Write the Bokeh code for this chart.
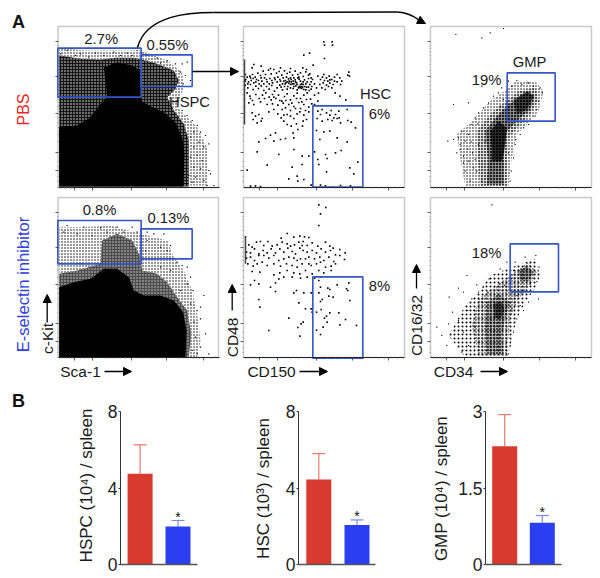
from bokeh.plotting import figure
from bokeh.models import Range1d, LinearAxis, FixedTicker, Arrow, NormalHead
from bokeh.core.properties import value
from bokeh.embed import file_html
from bokeh.resources import INLINE
import math

FONT = "Liberation Sans"
# ---------- bar data ----------
BAR_GROUPS = ["PBS", "E-selectin inhibitor"]
HSPC_MEAN = [4.74, 1.99]; HSPC_TOP = [6.26, 2.30]
HSC_MEAN = [4.44, 2.07];  HSC_TOP = [5.80, 2.33]
GMP_MEAN = [2.32, 0.82];  GMP_TOP = [2.94, 0.96]
BAR_COLORS = ["#d93a2e", "#2a3ff0"]
ERR_COLORS = ["#e57a6e", "#7a8af2"]

# ---------- flow gates (x0, x1, y0, y1) read in crop units ----------
GATES_P1A = [(172, 422, 143, 290), (422, 575, 163, 258)]
GATES_P1B = [(172, 422, 90, 220), (422, 575, 115, 205)]
GATE_P2 = [(217, 367, 244, 488)]
GATE_P3A = [(236, 380, 145, 290)]
GATE_P3B = [(245, 390, 145, 289)]

# ---------- HSC panels: points ----------
HSC_PBS = [(250,52),(252,62),(275,52),(276,62),(190,92),(207,86),(252,102),(218,122),(40,120),(62,125),(35,130),(90,132),(120,130),(150,132),(187,130),(198,135),(208,148),(325,143),(327,155),(322,152),
(15,150),(20,158),(28,155),(36,150),(44,158),(52,146),(60,153),(68,140),(75,150),(84,137),(92,148),(100,135),(108,146),(116,141),(124,152),(132,139),(140,147),(148,143),(156,152),(164,140),(172,150),(180,145),(188,156),(196,142),(204,152),(212,160),
(16,165),(24,172),(32,168),(40,175),(48,165),(56,178),(64,170),(72,160),(80,172),(88,162),(96,175),(104,165),(112,158),(120,170),(128,160),(136,175),(144,163),(152,172),(160,160),(168,175),(176,164),(184,178),(192,166),(200,172),(208,180),(216,165),
(14,182),(22,190),(30,180),(38,195),(46,185),(54,192),(62,184),(70,198),(78,186),(86,194),(94,183),(102,200),(110,190),(118,182),(126,196),(134,178),(142,186),(150,180),(158,192),(166,184),(174,190),(182,186),(190,195),(198,188),(206,198),(214,186),(222,178),
(135,168),(140,172),(146,170),(152,165),(158,170),(164,166),(170,180),(178,188),(186,188),(172,160),(160,178),(150,160),(130,170),(126,178),
(138,158),(145,176),(155,178),(165,172),(175,158),(180,170),(188,172),(196,178),(204,162),(212,172),(118,165),(110,172),(102,160),(94,168),(86,178),(78,165),(70,178),(62,160),(54,168),(46,172),(38,162),(30,160),(22,178),(14,170),(122,188),(132,186),(140,194),(150,190),(160,186),(170,196),(180,180),(188,180),(196,196),(204,188),(212,194),(180,190),(176,186),(184,192),(192,186),
(232,155),(240,165),(250,150),(258,160),(266,155),(274,165),(282,158),(290,150),(298,160),(304,170),(300,180),(290,172),(278,180),(268,176),(258,182),(248,175),(238,180),(228,190),(244,190),(254,195),(264,186),(274,190),(284,205),(298,215),(316,226),(262,170),(268,166),(252,168),(246,158),(282,170),
(20,205),(28,215),(36,228),(46,210),(56,222),(66,212),(76,205),(86,218),(96,210),(106,222),(114,212),(124,230),(132,216),(140,208),(150,226),(160,214),(170,206),(180,222),(190,212),(200,205),(210,224),(222,212),(234,206),(232,230),(214,238),
(25,235),(40,240),(60,232),(80,240),(96,238),(112,242),(128,236),(145,240),(160,246),(175,234),(190,240),(205,248),(222,240),(100,218),(118,228),(136,228),(154,236),(168,222),(184,232),(198,225),(30,222),(72,222),(92,226),
(35,265),(45,275),(55,270),(65,282),(38,285),(50,295),(62,290),(85,262),(100,255),(112,268),(122,280),(130,290),(140,270),(150,258),(160,282),(170,268),(180,252),(190,272),(205,262),(198,285),(168,298),(152,305),(140,300),(172,315),(186,305),(158,325),(125,255),(135,250),(165,252),(178,262),(150,275),(130,272),(195,258),(188,290),
(232,260),(245,255),(258,265),(272,258),(285,270),(295,260),(230,282),(245,290),(262,285),(275,288),(290,282),(300,295),(320,255),(322,288),(332,293),(345,310),(228,318),(250,322),(268,320),(238,345),(268,272),(280,280),(296,280),(240,270),
(105,325),(90,332),(75,342),(55,352),(100,350),(120,345),(135,342),(160,340),(50,382),(115,390),(160,375),(205,395),(185,395),(80,422),(155,428),(185,420),(20,437),(145,463),(170,455),(190,465),(172,470),(290,340),(320,352),(302,378),(285,385),(255,390),(260,402),(232,405),(352,413),(328,430),(258,442),(340,448),(222,382),(235,420),(240,482),(255,484),(300,483),(330,484),(212,482),(30,485),(60,486),(45,484)]

HSC_INH = [(235,28),(256,36),(240,55),(235,90),(140,114),(122,128),(160,125),(178,122),(192,124),(205,126),(15,125),
(25,148),(35,155),(48,140),(60,138),(70,150),(82,138),(95,152),(110,148),(125,140),(140,145),(150,152),(162,148),(175,140),(188,138),(200,150),(215,142),(232,152),(255,140),(268,152),(278,158),(298,162),(314,172),
(18,170),(30,172),(42,160),(55,175),(68,165),(80,172),(92,160),(105,172),(118,160),(130,170),(142,158),(155,168),(165,175),(178,158),(185,150),(188,165),(200,170),(215,165),(228,172),(242,160),(255,170),(270,165),(285,178),(298,180),
(18,188),(30,185),(42,195),(55,180),(70,180),(85,188),(100,180),(115,195),(130,190),(145,185),(160,188),(170,195),(180,190),(195,190),(205,185),(222,190),(238,185),(250,195),(265,185),(280,198),(312,192),
(22,205),(38,212),(50,205),(65,200),(80,210),(100,205),(120,212),(138,205),(155,210),(170,215),(185,205),(205,205),(212,210),(228,205),(240,200),(255,215),(272,212),(285,205),
(35,228),(58,230),(100,238),(118,232),(140,225),(160,232),(178,235),(195,225),(215,235),(235,225),(250,232),(272,225),
(115,250),(130,245),(155,245),(180,248),(200,245),(222,248),(240,245),(105,262),
(30,268),(42,255),(55,265),(90,275),(105,288),(160,292),(168,285),(190,292),(212,292),(235,255),(240,275),(235,292),(262,278),(268,282),(290,268),(325,262),(318,280),(322,285),(265,302),(278,305),(245,312),(240,318),(328,315),
(55,312),(58,335),(175,322),(195,340),(212,340),(215,350),(228,350),(242,342),(268,352),(295,352),(258,362),(252,368),(315,372),(145,368),(188,380),(182,385),(172,396),(260,380),(298,388),(348,390),(85,405),(228,404),(248,395),(240,417),(178,422)]

# ---------- GMP panels: points at the rims of the clouds ----------
GMP_PBS = [(225,12),(160,40),(185,25),(82,30),(75,240),(120,235),(160,185),(100,320),(90,340),(110,350),(75,345),(58,350),(95,375),(85,385),(105,395),(120,410),(135,430),(110,440),(125,470),(130,300),(140,280),(150,265),(165,250),(180,235),(195,215),(210,205),(220,190),(240,170),(265,168),(300,175),(335,190),(342,205),(330,230),(320,275),(300,300),(275,330),(260,360),(255,400),(248,440),(245,470),(105,415),(95,360),(120,330),(132,385),(145,440),(160,470),(170,350),(215,245),(225,225),(250,185),(280,180),(315,185),(325,255),(285,310),(262,345),(240,385),(128,352),(148,298),(118,375),(140,405),(150,360)]
GMP_INH = [(190,28),(115,240),(145,268),(105,290),(62,305),(72,350),(60,385),(40,420),(55,450),(25,395),(90,375),(105,410),(120,450),(100,470),(130,310),(135,345),(125,380),(150,290),(165,275),(182,250),(215,220),(235,200),(260,200),(290,185),(322,180),(332,215),(325,258),(330,310),(300,320),(285,345),(265,370),(255,410),(245,450),(240,475),(90,278),(140,395),(118,345),(152,440),(160,320),(178,290),(212,265),(228,270),(275,330),(250,340),(265,300),(280,290),(305,265),(248,250),(255,225)]

# ---------- HSPC panels: scattered dots outside the dense cloud ----------
HSPC_PBS_DARK = [(545,190),(560,185),(570,240),(555,225),(548,250),(540,215),(525,190),(440,165),(470,172),(500,180),(530,300),(545,330),(560,345),(575,360),(590,375),(600,395),(615,405),(580,395),(570,410),(595,425),(610,440),(625,430),(580,440),(570,470),(590,465),(605,480),(625,510),(580,500),(565,525),(585,530),(610,540),(630,520),(600,505),(575,545),(560,550),(640,555),(620,555),(200,150),(240,160),(285,158),(340,155),(380,158),(410,150),(180,160),(225,165),(265,170),(310,165),(360,165),(395,165),(440,182),(480,188)]
HSPC_INH_DARK = [(610,315),(600,350),(590,360),(580,395),(600,385),(615,430),(585,440),(600,470),(575,480),(625,490),(590,490),(560,230),(570,260),(578,300),(560,280),(545,225),(530,215),(510,165),(490,130),(460,130),(440,125),(200,105),(250,110),(300,112),(350,110),(395,110),(190,125),(230,130),(275,135),(320,125),(370,125),(410,125),(440,150),(480,170),(500,180),(435,180),(480,230),(510,240),(540,300),(570,340)]

# ---------- density outlines (crop units) ----------
P1A_OUTER = [(176,143),(260,150),(420,150),(500,180),(545,215),(550,260),(530,320),(590,380),(620,440),(620,555),(176,558)]
P1A_MID = [(176,165),(240,175),(300,178),(345,172),(400,172),(425,178),(470,190),(520,210),(535,240),(525,265),(500,290),(520,330),(550,370),(565,420),(565,558),(176,558)]
P1A_SOLID = [(176,558),(176,380),(230,375),(270,350),(300,310),(320,290),(310,200),(350,185),(395,195),(420,210),(422,300),(445,315),(490,335),(525,365),(545,410),(552,460),(548,558)]
P1B_OUTER = [(176,110),(250,110),(330,105),(420,130),(500,150),(520,200),(550,240),(575,300),(590,370),(600,450),(590,500),(176,500)]
P1B_MID = [(176,250),(230,240),(300,220),(305,150),(350,130),(395,150),(420,200),(425,240),(470,250),(500,275),(530,320),(560,360),(572,430),(565,500),(176,500)]
P1B_SOLID = [(176,500),(176,290),(220,275),(270,265),(310,235),(350,235),(385,260),(400,300),(430,315),(480,315),(520,330),(548,365),(558,420),(555,500)]
P3A_L1 = [(85,330),(130,290),(190,225),(235,195),(260,170),(320,170),(345,200),(330,260),(300,295),(265,330),(250,400),(240,485),(110,485),(95,400)]
P3A_L2 = [(145,320),(190,265),(240,225),(270,200),(320,190),(330,225),(305,270),(270,305),(240,340),(235,420),(235,483),(155,483),(150,420)]
P3A_L3 = [(170,320),(205,275),(240,240),(300,200),(318,215),(305,255),(270,285),(235,320),(225,400),(225,480),(175,480),(180,410)]
P3A_L4 = [(185,320),(210,290),(235,310),(228,370),(220,410),(190,410),(190,370)]
P3A_L5 = [(255,225),(295,200),(315,215),(295,255),(265,270)]
P3B_L1 = [(60,420),(110,330),(150,290),(185,240),(250,215),(320,190),(335,240),(320,280),(290,320),(265,370),(250,430),(240,485),(110,485)]
P3B_L2 = [(130,390),(150,310),(190,280),(250,235),(300,200),(325,230),(305,270),(270,310),(245,370),(235,480),(150,480)]
P3B_L3 = [(175,320),(210,295),(245,320),(230,370),(220,420),(225,478),(175,478),(170,400)]
P3B_L4 = [(270,225),(295,212),(315,230),(300,258),(275,255)]
P3B_L5 = [(195,325),(220,320),(228,345),(215,372),(198,365)]

TICK_X_MAJOR = [58, 112, 228, 335, 445]
TICK_X_MINOR = [18, 27, 35, 42, 48, 53, 75, 88, 100, 150, 175, 195, 212, 262, 285, 305, 322, 370, 395, 415, 432, 470]
TICK_Y_MAJOR = [52, 157, 268, 385, 437]
TICK_Y_MINOR = [62, 72, 82, 92, 105, 120, 138, 170, 182, 195, 210, 225, 245, 280, 295, 310, 330, 350, 410, 425, 455, 470]

# ---------- figure whose coordinates are the page's pixels ----------
L, R, T, B = 0, 600, 0, 578
p = figure(width=R-L, height=B-T, x_range=Range1d(L, R), y_range=Range1d(B, T),
           output_backend="svg", toolbar_location=None, min_border=0,
           x_axis_location=None, y_axis_location=None, outline_line_color=None)
p.grid.visible = False
p.background_fill_color = "white"

def crop_ranges(name, ox, oy):
    p.extra_x_ranges[name] = Range1d((L-ox)*3, (R-ox)*3)
    p.extra_y_ranges[name] = Range1d((B-oy)*3, (T-oy)*3)

def poly(pts, name, alpha, hatch=None, hcolor="white", hscale=3, hweight=1):
    kw = {}
    if hatch:
        kw = dict(hatch_pattern=hatch, hatch_color=hcolor, hatch_scale=hscale, hatch_weight=hweight)
    p.patch([a for a, _ in pts], [b for _, b in pts], x_range_name=name, y_range_name=name,
            fill_color="black", fill_alpha=alpha, line_color=None, **kw)

def dots(pts, name, size, color="black", alpha=1.0):
    p.scatter([a for a, _ in pts], [b for _, b in pts], x_range_name=name, y_range_name=name,
              size=size, marker="square", color=color, alpha=alpha, line_color=None)

def gates(gs, name):
    for x0, x1, y0, y1 in gs:
        p.quad(left=[x0], right=[x1], top=[y0], bottom=[y1], x_range_name=name, y_range_name=name,
               fill_color=None, line_color="#3355c8", line_width=1.6)

def frame_axes(name, left, right, top, bottom):
    tn = name + "_t"
    crop_ranges(tn, left-3, top-2)
    p.quad(left=[left], right=[right], top=[top], bottom=[bottom], fill_color=None,
           line_color="#c9c9c9", line_width=1.5)
    ya = LinearAxis(y_range_name=tn, fixed_location=left,
                    ticker=FixedTicker(ticks=TICK_Y_MAJOR, minor_ticks=TICK_Y_MINOR),
                    major_label_overrides={t: "" for t in TICK_Y_MAJOR}, axis_line_color=None,
                    major_tick_line_color="#333333", minor_tick_line_color="#777777",
                    major_tick_in=0, major_tick_out=3, minor_tick_in=0, minor_tick_out=1,
                    major_tick_line_width=0.8, minor_tick_line_width=0.7)
    p.add_layout(ya, "left")
    xa = LinearAxis(x_range_name=tn, fixed_location=bottom, bounds=(9, 492),
                    ticker=FixedTicker(ticks=TICK_X_MAJOR, minor_ticks=TICK_X_MINOR),
                    major_label_overrides={t: "" for t in TICK_X_MAJOR}, axis_line_color="#222222", axis_line_width=1,
                    major_tick_line_color="#333333", minor_tick_line_color="#777777",
                    major_tick_in=0, major_tick_out=3, minor_tick_in=0, minor_tick_out=1,
                    major_tick_line_width=0.8, minor_tick_line_width=0.7)
    p.add_layout(xa, "below")

LEFTS = {1: (57.5, 218), 2: (243, 404), 3: (430, 591)}
ROWS = {"a": (26, 187), "b": (197, 357)}

# --- HSPC panels
crop_ranges("p1a", 0, 0)
crop_ranges("p1b", 0, 190)
frame_axes("p1a", *LEFTS[1], *ROWS["a"])
frame_axes("p1b", *LEFTS[1], *ROWS["b"])
poly(P1A_OUTER, "p1a", 0.0, "dot", "black", 3, 0.5)
poly(P1A_MID, "p1a", 0.92, "dot", "white", 3, 0.6)
poly(P1A_SOLID, "p1a", 1)
dots(HSPC_PBS_DARK, "p1a", 1.2)
poly(P1B_OUTER, "p1b", 0.0, "dot", "black", 3, 0.55)
poly(P1B_MID, "p1b", 0.7, "dot", "white", 3, 0.6)
poly(P1B_SOLID, "p1b", 1)
dots(HSPC_INH_DARK, "p1b", 1.2)
gates(GATES_P1A, "p1a"); gates(GATES_P1B, "p1b")

# --- HSC panels
crop_ranges("p2a", 240, 24)
crop_ranges("p2b", 240, 195)
frame_axes("p2a", *LEFTS[2], *ROWS["a"])
frame_axes("p2b", *LEFTS[2], *ROWS["b"])
dots(HSC_PBS, "p2a", 1.6); dots(HSC_INH, "p2b", 1.6)
p.segment([12], [105], [12], [300], x_range_name="p2a", y_range_name="p2a", line_color="#444444", line_width=1.5)
p.segment([15], [128], [15], [205], x_range_name="p2b", y_range_name="p2b", line_color="#444444", line_width=1.5)
gates(GATE_P2, "p2a"); gates(GATE_P2, "p2b")

# --- GMP panels
crop_ranges("p3a", 428, 24)
crop_ranges("p3b", 428, 195)
frame_axes("p3a", *LEFTS[3], *ROWS["a"])
frame_axes("p3b", *LEFTS[3], *ROWS["b"])
for pts, a, hw in [(P3A_L1, 0, .45), (P3A_L2, .12, .6), (P3A_L3, .38, .6), (P3A_L4, .7, .6), (P3A_L5, .55, .6)]:
    poly(pts, "p3a", a, "dot", "black", 3, hw)
for pts, a, hs, hw in [(P3B_L1, 0, 4, .4), (P3B_L2, .05, 3, .45), (P3B_L3, .25, 3, .6), (P3B_L4, .35, 3, .6), (P3B_L5, .55, 3, .6)]:
    poly(pts, "p3b", a, "dot", "black", hs, hw)
dots(GMP_PBS, "p3a", 1.1); dots(GMP_INH, "p3b", 1.1)
gates(GATE_P3A, "p3a"); gates(GATE_P3B, "p3b")

# --- bar panels
def bars(name, axis_x, axis_end, c0, c1, ymax, means, tops, ticks, star_y, overrides):
    d = c1 - c0
    p.extra_x_ranges[name] = Range1d((L-c0)/d, (R-c0)/d)
    per = ymax / (564 - 411)
    p.extra_y_ranges[name] = Range1d((564-B)*per, (564-T)*per)
    xs = [0, 1]
    hw = 6.5 / d
    p.segment(xs, means, xs, tops, x_range_name=name, y_range_name=name, line_color=ERR_COLORS, line_width=1.2)
    p.segment([x-hw for x in xs], tops, [x+hw for x in xs], tops, x_range_name=name, y_range_name=name,
              line_color=ERR_COLORS, line_width=1.2)
    p.vbar(x=xs, top=means, bottom=0, width=25/d, x_range_name=name, y_range_name=name,
           fill_color=BAR_COLORS, line_color=None)
    ya = LinearAxis(y_range_name=name, fixed_location=axis_x, bounds=(0, ymax), ticker=FixedTicker(ticks=ticks),
                    major_label_overrides=overrides, major_label_text_font=FONT, major_label_text_font_size="17.5px",
                    major_label_text_color="#222222", axis_line_color="#333333", axis_line_width=1,
                    major_tick_line_color="#333333", major_tick_in=0, major_tick_out=2,
                    minor_tick_line_color=None, major_label_standoff=1)
    p.add_layout(ya, "left")
    xa = LinearAxis(x_range_name=name, fixed_location=564, bounds=((axis_x-c0)/d, (axis_end-c0)/d),
                    ticker=FixedTicker(ticks=[]),
                    axis_line_color="#555555", axis_line_width=1.4,
                    major_tick_line_color=None, minor_tick_line_color=None)
    p.add_layout(xa, "below")
    p.text([1], [tops[1]], text=["*"], x_range_name=name, y_range_name=name, text_font=value(FONT),
           text_font_size="14px", text_align="center", text_baseline="middle", y_offset=star_y, text_color="#111111")

bars("b1", 120, 196.7, 139.6, 177.5, 8, HSPC_MEAN, HSPC_TOP, [0, 4, 8], -4, {0: "0", 4: "4", 8: "8"})
bars("b2", 298, 375, 318.3, 356.5, 8, HSC_MEAN, HSC_TOP, [0, 4, 8], -4, {0: "0", 4: "4", 8: "8"})
bars("b3", 485, 560.7, 504.2, 541.8, 3, GMP_MEAN, GMP_TOP, [0, 1.5, 3], -4, {0: "0", 1.5: "1.5", 3: "3"})

# --- texts
def txt(s, x, y, size=14.8, color="#1a1a1a", angle=0, style="normal"):
    p.text([x], [y], text=[s], text_font=value(FONT), text_font_size=f"{size}px", text_color=color,
           text_align="center", text_baseline="middle", angle=angle, text_font_style=style)

UP = math.pi / 2
txt("A", 18, 21, 18, "#111111", style="bold"); txt("B", 18, 400, 18, "#111111", style="bold")
txt("PBS", 23, 109, 16, "#e8282a", UP); txt("E-selectin inhibitor", 23, 284, 16.6, "#3040e0", UP)
for s, x, y in [("2.7%", 100.7, 38), ("0.55%", 167, 44.5), ("HSPC", 189, 101), ("0.8%", 99, 209), ("0.13%", 168, 217),
                ("HSC", 375, 93), ("6%", 379, 113), ("GMP", 529, 61), ("19%", 486, 79), ("18%", 486, 252), ("8%", 379, 285)]:
    txt(s, x, y)
for s, x, y in [("Sca-1", 80, 371), ("CD150", 271, 371), ("CD34", 453, 371)]:
    txt(s, x, y, 15.5)
for s, x, y in [("c-Kit", 46.7, 338), ("CD48", 231.7, 337), ("CD16/32", 416, 325)]:
    txt(s, x, y, 15.5, angle=UP)
txt("HSPC (10\u2074) / spleen", 85.7, 485, 17, angle=UP)
txt("HSC (10\u00b3) / spleen", 263, 488, 17, angle=UP)
txt("GMP (10\u2074) / spleen", 441, 488, 17, angle=UP)

# --- arrows
def arrow(x0, y0, x1, y1, size=8, lw=1.5):
    p.add_layout(Arrow(end=NormalHead(size=size, fill_color="black", line_color="black"),
                       x_start=x0, y_start=y0, x_end=x1, y_end=y1, line_color="black", line_width=lw))

arrow(192, 71, 238, 71)
for a in [(104, 371, 131, 371), (299, 371, 327, 371), (480, 371, 507, 371),
          (46.7, 322, 46.7, 294), (231.7, 310, 231.7, 284), (416, 288, 416, 264)]:
    arrow(*a, size=8, lw=1.3)
p.bezier(x0=[137], y0=[47], x1=[213], y1=[12], cx0=[146], cy0=[14], cx1=[190], cy1=[12], line_color="black", line_width=1.5)
p.segment([213], [12], [397], [11.5], line_color="black", line_width=1.5)
p.bezier(x0=[397], y0=[11.5], x1=[419], y1=[20], cx0=[407], cy0=[12], cx1=[414], cy1=[16], line_color="black", line_width=1.5)
arrow(418, 19.5, 425, 23, size=8, lw=1.2)

open("out.html", "w").write(file_html(p, INLINE))
